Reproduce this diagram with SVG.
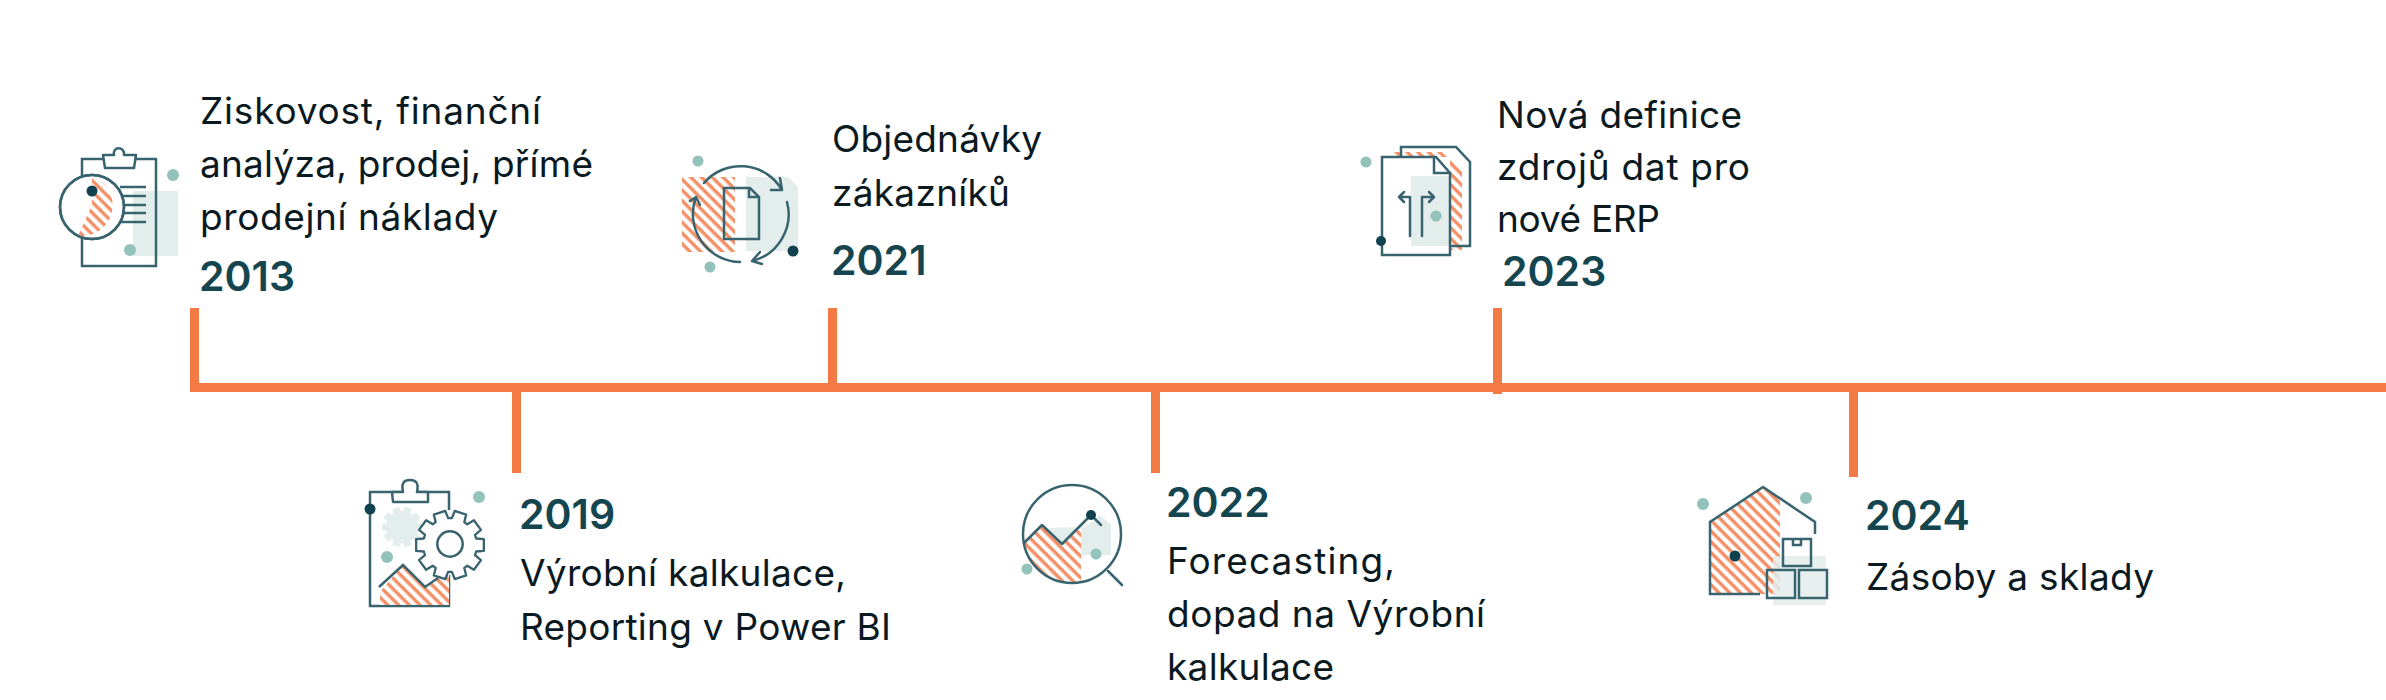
<svg xmlns="http://www.w3.org/2000/svg" width="2386" height="700" viewBox="0 0 2386 700">
<style>
text{font-family:"Inter","Liberation Sans",sans-serif}
.t{font-size:37px;fill:#0a1a20}
.y{font-size:41px;font-weight:600;fill:#15464f}
.l{fill:none;stroke:#38646f;stroke-width:2.5}
.w{fill:#fff;stroke:#38646f;stroke-width:2.5;stroke-linejoin:round}
.a{fill:none;stroke:#38646f;stroke-width:2.5;stroke-linecap:round;stroke-linejoin:round}
.p{fill:#e3edeb}
.d{fill:#10414f}
.g{fill:#93c2ba}
.h{fill:url(#hatch)}
.tl{fill:#f37a45}
</style>
<defs>
<pattern id="hatch" width="7.6" height="7.6" patternUnits="userSpaceOnUse" patternTransform="rotate(45)">
<rect width="7.6" height="7.6" fill="#fff"/><rect width="7.6" height="3.4" fill="#f58f66"/>
</pattern>
<clipPath id="lens"><circle cx="1072" cy="534" r="49"/></clipPath>
<path id="gear" d="M28.1-7L36.4-6.4V6.4L28.1 7L26.9 10.9L33.3 16.2L25.7 26.6L18.6 22.2L15.4 24.6L17.4 32.7L5.1 36.6L2 28.9H-2L-5.1 36.6L-17.4 32.7L-15.4 24.6L-18.6 22.2L-25.7 26.6L-33.3 16.2L-26.9 10.9L-28.1 7L-36.4 6.4V-6.4L-28.1-7L-26.9-10.9L-33.3-16.2L-25.7-26.6L-18.6-22.2L-15.4-24.6L-17.4-32.7L-5.1-36.6L-2-28.9H2L5.1-36.6L17.4-32.7L15.4-24.6L18.6-22.2L25.7-26.6L33.3-16.2L26.9-10.9Z"/>
</defs>
<g id="connectors">
<rect class="tl" x="190" y="383" width="2196" height="9"/>
<rect class="tl" x="190" y="308" width="9" height="80"/>
<rect class="tl" x="512" y="388" width="9" height="85"/>
<rect class="tl" x="828" y="308" width="9" height="80"/>
<rect class="tl" x="1151" y="388" width="9" height="85"/>
<rect class="tl" x="1493" y="308" width="9" height="86"/>
<rect class="tl" x="1849" y="388" width="9" height="89"/>
</g>
<g id="node-2013">
<rect class="p" x="133" y="191" width="45" height="65"/>
<rect class="l" x="82" y="159" width="74" height="107"/>
<path class="w" d="M103 155H114C112 146 125 146 124 155H136L134 168H105Z"/>
<path class="l" d="M120 187H146M120 196H146M120 205H146M120 213H146M120 222H146"/>
<circle class="w" cx="92" cy="207" r="32"/>
<path class="h" d="M92 176A31 31 0 0 1 78 236L92 205Z"/>
<circle class="l" cx="92" cy="207" r="32"/>
<circle class="d" cx="92" cy="191" r="5.5"/>
<circle class="g" cx="173" cy="175" r="6"/>
<circle class="g" cx="130" cy="250" r="6"/>
<text class="t" x="200" y="124" textLength="341">Ziskovost, finanční</text>
<text class="t" x="200" y="177" textLength="393">analýza, prodej, přímé</text>
<text class="t" x="200" y="230" textLength="298">prodejní náklady</text>
<text class="y" x="199" y="291">2013</text>
</g>
<g id="node-2019">
<path class="l" d="M449 510V492H370V606H449V575"/>
<path class="w" d="M392 492H403C401 483 404 480 410 480C416 480 419 483 417 492H428V502H393Z"/>
<use href="#gear" class="p" transform="translate(402 527) scale(.55)"/>
<path class="h" d="M380 592L403 565L425 587L438 578L449 570V605H380Z"/>
<path class="l" d="M379 587L403 565L425 587L438 578"/>
<use href="#gear" class="w" transform="translate(450 545) scale(.93)"/>
<circle class="w" cx="450" cy="544" r="12.7"/>
<circle class="d" cx="370" cy="509" r="5.5"/>
<circle class="g" cx="479" cy="497" r="6"/>
<circle class="g" cx="387" cy="557" r="6"/>
<text class="y" x="519" y="529">2019</text>
<text class="t" x="520" y="586" textLength="326">Výrobní kalkulace,</text>
<text class="t" x="520" y="640" textLength="371">Reporting v Power BI</text>
</g>
<g id="node-2021">
<rect class="h" x="682" y="177" width="53" height="75"/>
<path class="p" d="M746 177H788L798 187V251H746Z"/>
<path class="l" d="M724 188H750L759 197V239H724Z"/>
<path class="l" d="M749 188V197H759"/>
<path class="a" d="M704 183A48 48 0 0 1 782 190M771 190L782 190L780 178M787 202A48 48 0 0 1 752 261M760 252L752 261L762 264M740 262A48 48 0 0 1 696 197M690 201L696 197L700 205"/>
<circle class="g" cx="698" cy="161" r="5.5"/>
<circle class="g" cx="710" cy="267" r="5.5"/>
<circle class="d" cx="793" cy="251" r="5.5"/>
<text class="t" x="832" y="152" textLength="210">Objednávky</text>
<text class="t" x="832" y="206" textLength="178">zákazníků</text>
<text class="y" x="831" y="275">2021</text>
</g>
<g id="node-2022">
<g clip-path="url(#lens)">
<path class="p" d="M1045 528L1042 525L1062 544L1081 527V555H1111V525L1100 515L1085 527Z"/>
<path class="h" d="M1024 543L1042 525L1062 544L1081 527V590H1020Z"/>
</g>
<circle class="l" cx="1072" cy="534" r="49"/>
<path class="a" d="M1024 543L1042 525L1062 544L1091 515L1101 525M1108 571L1122 585"/>
<circle class="d" cx="1091" cy="515" r="5"/>
<circle class="g" cx="1027" cy="569" r="5.5"/>
<circle class="g" cx="1096" cy="554" r="5.5"/>
<text class="y" x="1166" y="517">2022</text>
<text class="t" x="1167" y="574" textLength="228">Forecasting,</text>
<text class="t" x="1167" y="627" textLength="318">dopad na Výrobní</text>
<text class="t" x="1167" y="680" textLength="167">kalkulace</text>
</g>
<g id="node-2023">
<path class="h" d="M1391 152H1445L1462 170V250H1450V157H1392Z"/>
<rect class="p" x="1411" y="176" width="39" height="70"/>
<path class="l" d="M1401 157V147H1456L1470 162V246H1450"/>
<path class="l" d="M1382 157H1436L1450 173V255H1382Z"/>
<path class="l" d="M1434 157V173H1450"/>
<path class="a" d="M1410 236V197H1399M1404 192L1399 197L1404 202M1422 236V197H1434M1429 192L1434 197L1429 202"/>
<circle class="g" cx="1366" cy="162" r="5.5"/>
<circle class="g" cx="1436" cy="216" r="5.5"/>
<circle class="d" cx="1381" cy="241" r="5"/>
<text class="t" x="1497" y="128" textLength="245">Nová definice</text>
<text class="t" x="1497" y="180" textLength="253">zdrojů dat pro</text>
<text class="t" x="1497" y="232" textLength="163">nové ERP</text>
<text class="y" x="1502" y="286">2023</text>
</g>
<g id="node-2024">
<path class="h" d="M1710 522L1763 487L1780 498V594H1710Z"/>
<rect class="p" x="1773" y="556" width="53" height="49" opacity=".85"/>
<path class="l" d="M1760 594H1710V522L1763 487L1815 522V534"/>
<path class="l" d="M1783 539H1811V566H1783ZM1793 539V545H1801V539M1767 570H1795V598H1767ZM1799 570H1827V598H1799Z"/>
<circle class="d" cx="1735" cy="556" r="5.5"/>
<circle class="g" cx="1703" cy="504" r="6"/>
<circle class="g" cx="1806" cy="498" r="6"/>
<text class="y" x="1865" y="530">2024</text>
<text class="t" x="1866" y="590" textLength="288">Zásoby a sklady</text>
</g>
</svg>
